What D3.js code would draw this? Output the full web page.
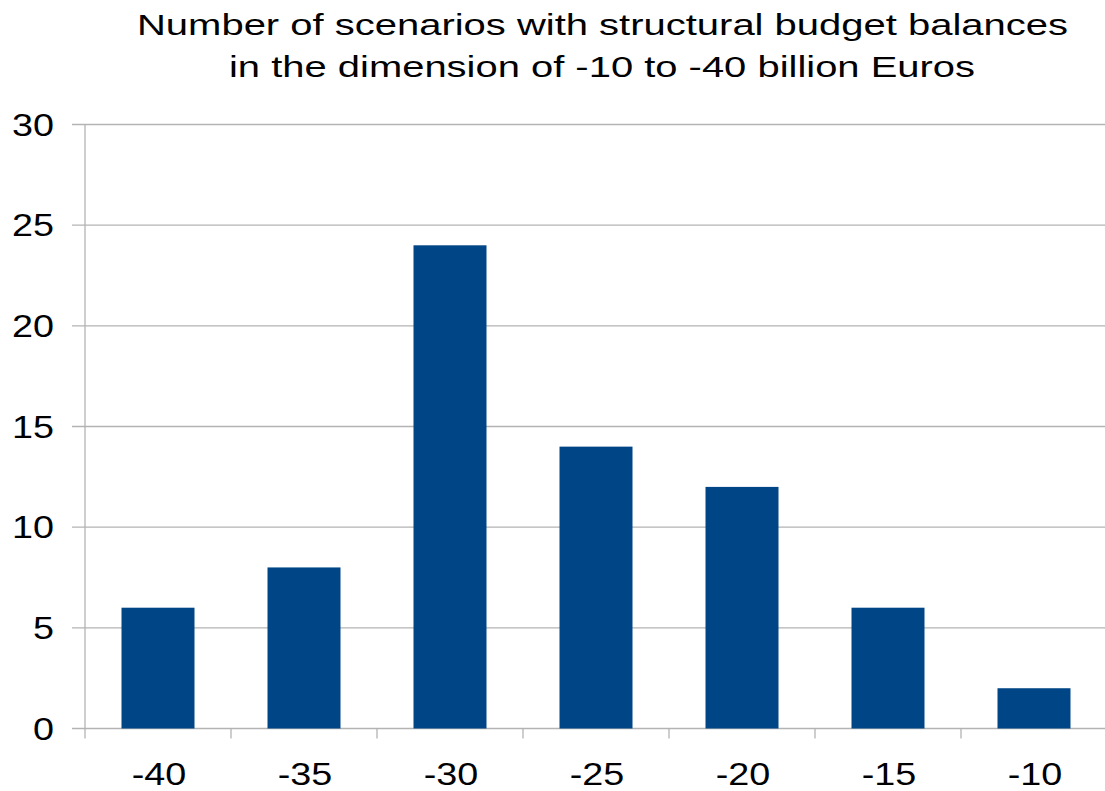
<!DOCTYPE html>
<html><head><meta charset="utf-8">
<script src="https://cdn.jsdelivr.net/npm/d3@7"></script>
<style>body{margin:0;background:#fff}</style>
</head><body>
<svg id="c" width="1105" height="791"></svg>
<script>
const categories = ["-40","-35","-30","-25","-20","-15","-10"];
const values = [6, 8, 24, 14, 12, 6, 2];
const yTicks = [0, 5, 10, 15, 20, 25, 30];
const titleLines = ["Number of scenarios with structural budget balances","in the dimension of -10 to -40 billion Euros"];

(function () {
const svg = d3.select("#c");
const pL = 85, pR = 1107, pT = 124.5, pB = 728.5;
const x = d3.scaleBand().domain(categories).range([pL, pR]).paddingInner(0.5).paddingOuter(0.25);
const xb = d3.scaleBand().domain(categories).range([pL, pR]);
const y = d3.scaleLinear().domain([0, 30]).range([pB, pT]);
const FONT = "Liberation Sans, Arial, sans-serif";
const SX = 1.18;

svg.append("g").selectAll("line").data(yTicks).join("line")
  .attr("x1", 72).attr("x2", 1105)
  .attr("y1", d => y(d)).attr("y2", d => y(d))
  .attr("stroke", "#b3b3b3").attr("stroke-width", 1.3);
svg.append("line").attr("x1", pL).attr("x2", pL).attr("y1", pT).attr("y2", pB + 10)
  .attr("stroke", "#b3b3b3").attr("stroke-width", 1.3);
svg.append("g").selectAll("line").data(categories.slice(1)).join("line")
  .attr("x1", d => xb(d)).attr("x2", d => xb(d))
  .attr("y1", pB).attr("y2", pB + 10)
  .attr("stroke", "#b3b3b3").attr("stroke-width", 1.3);

svg.append("g").selectAll("rect").data(values).join("rect")
  .attr("x", (d, i) => x(categories[i]))
  .attr("width", x.bandwidth())
  .attr("y", d => y(d))
  .attr("height", d => y(0) - y(d))
  .attr("fill", "#004586");

svg.append("g").selectAll("text").data(yTicks).join("text")
  .attr("transform", d => `translate(54,${y(d) + 11}) scale(${SX},1)`)
  .attr("text-anchor", "end")
  .attr("font-family", FONT)
  .attr("font-size", 32).attr("fill", "#000")
  .text(d => d);

svg.append("g").selectAll("text").data(categories).join("text")
  .attr("transform", d => `translate(${xb(d) + xb.bandwidth() / 2 + 1},785) scale(${SX},1)`)
  .attr("text-anchor", "middle")
  .attr("font-family", FONT)
  .attr("font-size", 32).attr("fill", "#000")
  .text(d => d);

const tl = [{x: 137, w: 931, y: 34.5}, {x: 229, w: 746, y: 77}];
svg.append("g").selectAll("text").data(titleLines).join("text")
  .attr("x", (d, i) => tl[i].x).attr("y", (d, i) => tl[i].y)
  .attr("textLength", (d, i) => tl[i].w).attr("lengthAdjust", "spacingAndGlyphs")
  .attr("font-family", FONT)
  .attr("font-size", 29).attr("fill", "#000")
  .text(d => d);
})();
</script>
</body></html>
